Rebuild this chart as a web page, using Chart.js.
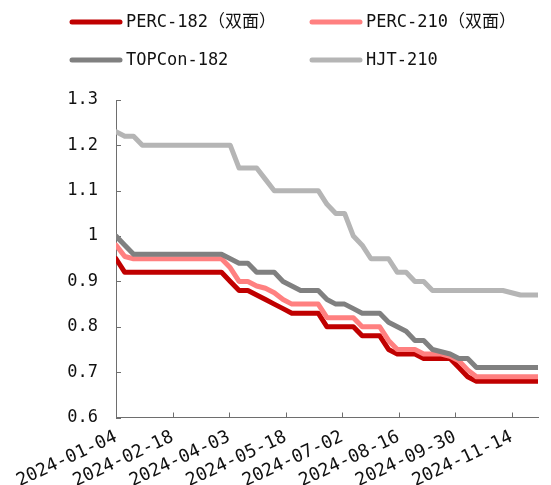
<!DOCTYPE html>
<html>
<head>
<meta charset="utf-8">
<script src="https://cdn.jsdelivr.net/npm/chart.js@4.4.1/dist/chart.umd.min.js"></script>
<style>
  html, body { margin: 0; padding: 0; background: #ffffff; }
  #wrap { width: 551px; height: 485px; position: relative; }
</style>
</head>
<body>
<div id="wrap"><canvas id="c" width="551" height="485"></canvas></div>
<script>
// Weekly quotation dates
const weekDates = [
  '2024-01-04','2024-01-11','2024-01-18','2024-01-25',
  '2024-02-01','2024-02-08','2024-02-15','2024-02-22','2024-02-29',
  '2024-03-07','2024-03-14','2024-03-21','2024-03-28',
  '2024-04-04','2024-04-11','2024-04-18','2024-04-25',
  '2024-05-02','2024-05-09','2024-05-16','2024-05-23','2024-05-30',
  '2024-06-06','2024-06-13','2024-06-20','2024-06-27',
  '2024-07-04','2024-07-11','2024-07-18','2024-07-25',
  '2024-08-01','2024-08-08','2024-08-15','2024-08-22','2024-08-29',
  '2024-09-05','2024-09-12','2024-09-19','2024-09-26',
  '2024-10-03','2024-10-10','2024-10-17','2024-10-24','2024-10-31',
  '2024-11-07','2024-11-14','2024-11-21','2024-11-28',
  '2024-12-05'
];

// Cell prices per series (one value per week)
const perc182 = [
  0.95, 0.92, 0.92, 0.92, 0.92, 0.92, 0.92, 0.92, 0.92, 0.92, 0.92, 0.92, 0.92,
  0.90, 0.88, 0.88, 0.87, 0.86, 0.85, 0.84, 0.83, 0.83, 0.83, 0.83,
  0.80, 0.80, 0.80, 0.80, 0.78, 0.78, 0.78, 0.75, 0.74, 0.74, 0.74,
  0.73, 0.73, 0.73, 0.73, 0.71, 0.69, 0.68, 0.68, 0.68, 0.68, 0.68, 0.68, 0.68, 0.68
];
const perc210 = [
  0.98, 0.955, 0.95, 0.95, 0.95, 0.95, 0.95, 0.95, 0.95, 0.95, 0.95, 0.95, 0.95,
  0.93, 0.90, 0.90, 0.89, 0.885, 0.875, 0.86, 0.85, 0.85, 0.85, 0.85,
  0.82, 0.82, 0.82, 0.82, 0.80, 0.80, 0.80, 0.77, 0.75, 0.75, 0.75,
  0.74, 0.74, 0.74, 0.735, 0.725, 0.705, 0.69, 0.69, 0.69, 0.69, 0.69, 0.69, 0.69, 0.69
];
const topcon182 = [
  1.00, 0.98, 0.96, 0.96, 0.96, 0.96, 0.96, 0.96, 0.96, 0.96, 0.96, 0.96, 0.96,
  0.95, 0.94, 0.94, 0.92, 0.92, 0.92, 0.90, 0.89, 0.88, 0.88, 0.88,
  0.86, 0.85, 0.85, 0.84, 0.83, 0.83, 0.83, 0.81, 0.80, 0.79, 0.77,
  0.77, 0.75, 0.745, 0.74, 0.73, 0.73, 0.71, 0.71, 0.71, 0.71, 0.71, 0.71, 0.71, 0.71
];
const hjt210 = [
  1.23, 1.22, 1.22, 1.20, 1.20, 1.20, 1.20, 1.20, 1.20, 1.20, 1.20, 1.20, 1.20,
  1.20, 1.15, 1.15, 1.15, 1.125, 1.10, 1.10, 1.10, 1.10, 1.10, 1.10,
  1.07, 1.05, 1.05, 1.00, 0.98, 0.95, 0.95, 0.95, 0.92, 0.92, 0.90,
  0.90, 0.88, 0.88, 0.88, 0.88, 0.88, 0.88, 0.88, 0.88, 0.88, 0.875, 0.87, 0.87, 0.87
];

const seriesNames = ['PERC-182（双面）', 'PERC-210（双面）', 'TOPCon-182', 'HJT-210'];
const seriesColors = ['#c00000', '#ff8080', '#808080', '#b5b5b5'];

// Axis tick labels
const xTickLabels = ['2024-01-04','2024-02-18','2024-04-03','2024-05-18','2024-07-02','2024-08-16','2024-09-30','2024-11-14'];
const yTickValues = [0.6, 0.7, 0.8, 0.9, 1.0, 1.1, 1.2, 1.3];

const FONT = "'DejaVu Sans Mono', 'Noto Sans CJK SC', monospace";
const DAY_MS = 86400000;
const originMs = Date.parse(weekDates[0]);
const dayOf = s => Math.round((Date.parse(s) - originMs) / DAY_MS);

const toPoints = vals => vals.map((v, i) => ({ x: dayOf(weekDates[i]), y: v }));
const seriesValues = [perc182, perc210, topcon182, hjt210];

const datasets = seriesValues.map((vals, i) => ({
  label: seriesNames[i],
  data: toPoints(vals),
  borderColor: seriesColors[i],
  backgroundColor: seriesColors[i],
  borderWidth: 5,
  pointRadius: 0,
  tension: 0,
  borderCapStyle: 'round',
  borderJoinStyle: 'round',
  order: seriesValues.length - i   // later series painted on top
}));

// Short inward tick marks on both axes
const innerTicks = {
  id: 'innerTicks',
  beforeDatasetsDraw(chart) {
    const { ctx, chartArea: a, scales: { x, y } } = chart;
    ctx.save();
    ctx.strokeStyle = '#6e6e6e';
    ctx.lineWidth = 1;
    ctx.beginPath();
    y.ticks.forEach(t => {
      const py = Math.round(y.getPixelForValue(t.value)) + 0.5;
      ctx.moveTo(a.left, py); ctx.lineTo(a.left + 5, py);
    });
    x.ticks.forEach(t => {
      const px = Math.round(x.getPixelForValue(t.value)) + 0.5;
      ctx.moveTo(px, a.bottom); ctx.lineTo(px, a.bottom - 5);
    });
    ctx.stroke();
    ctx.restore();
  }
};

// Two-column legend above the plot
const gridLegend = {
  id: 'gridLegend',
  afterDraw(chart) {
    const { ctx } = chart;
    const cols = [70, 310];
    const rows = [22, 60];
    ctx.save();
    ctx.font = '17px ' + FONT;
    ctx.textBaseline = 'middle';
    ctx.textAlign = 'left';
    chart.data.datasets.forEach((ds, i) => {
      const x0 = cols[i % 2], y0 = rows[Math.floor(i / 2)];
      ctx.strokeStyle = ds.borderColor;
      ctx.lineWidth = 5;
      ctx.lineCap = 'round';
      ctx.beginPath();
      ctx.moveTo(x0 + 2, y0); ctx.lineTo(x0 + 50, y0);
      ctx.stroke();
      ctx.fillStyle = '#111111';
      ctx.fillText(ds.label, x0 + 56, y0 + 1);
    });
    ctx.restore();
  }
};

new Chart(document.getElementById('c'), {
  type: 'line',
  data: { datasets },
  options: {
    responsive: false,
    animation: false,
    devicePixelRatio: 1,
    layout: { padding: { left: 0, right: 13, top: 100, bottom: 0 } },
    plugins: { legend: { display: false }, tooltip: { enabled: false } },
    scales: {
      x: {
        type: 'linear',
        min: 0,
        max: dayOf(weekDates[weekDates.length - 1]),
        afterBuildTicks: s => { s.ticks = xTickLabels.map(l => ({ value: dayOf(l) })); },
        afterFit: s => { s.height = 67.5; },
        grid: { drawOnChartArea: false, drawTicks: false },
        border: { display: true, color: '#6e6e6e', width: 1 },
        ticks: {
          autoSkip: false,
          minRotation: 25,
          maxRotation: 25,
          padding: 9,
          color: '#111111',
          font: { family: FONT, size: 18 },
          callback: v => {
            const idx = xTickLabels.findIndex(l => dayOf(l) === v);
            return idx >= 0 ? xTickLabels[idx] : '';
          }
        }
      },
      y: {
        min: 0.6,
        max: 1.3,
        afterBuildTicks: s => { s.ticks = yTickValues.map(v => ({ value: v })); },
        afterFit: s => { s.width = 116; },
        grid: { drawOnChartArea: false, drawTicks: false },
        border: { display: true, color: '#6e6e6e', width: 1 },
        ticks: {
          padding: 18,
          color: '#111111',
          font: { family: FONT, size: 17 },
          callback: v => String(+Number(v).toFixed(1))
        }
      }
    }
  },
  plugins: [innerTicks, gridLegend]
});
</script>
</body>
</html>
